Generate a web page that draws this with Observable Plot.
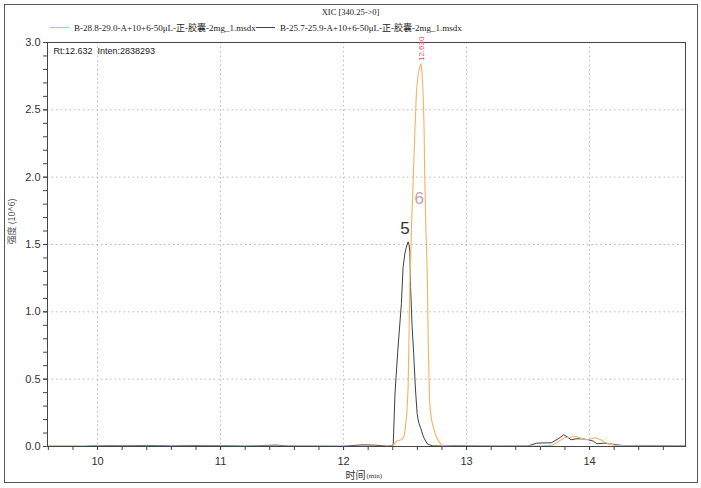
<!DOCTYPE html>
<html>
<head>
<meta charset="utf-8">
<script src="https://cdn.jsdelivr.net/npm/d3@7"></script>
<script src="https://cdn.jsdelivr.net/npm/@observablehq/plot@0.6"></script>
<style>
  html, body { margin: 0; padding: 0; background: #fff; }
  #wrap { position: relative; width: 701px; height: 488px; }
  #border { position: absolute; left: 4px; top: 4px; width: 692px; height: 477px; border: 1px solid #555; pointer-events: none; }
  #head { position: relative; height: 34px; }
  #title { position: absolute; left: 0; width: 701px; top: 7px; text-align: center; font: 8.5px "Liberation Serif", serif; color: #222; }
  .lg { position: absolute; top: 21px; font: 9px "Liberation Serif", "Noto Sans CJK SC", serif; color: #222; white-space: nowrap; }
  .sw { position: absolute; top: 27px; height: 1px; width: 19px; }
  svg { display: block; }
</style>
</head>
<body>
<div id="wrap">
  <div id="head">
    <div id="title"></div>
    <div class="sw" id="sw0"></div><div class="lg" id="lg0"></div>
    <div class="sw" id="sw1"></div><div class="lg" id="lg1"></div>
  </div>
  <div id="chart"></div>
  <div id="border"></div>
</div>
<script>
// ---- data ----
const titleText = "XIC [340.25->0]";
const seriesNames = ["B-28.8-29.0-A+10+6-50μL-正-胶囊-2mg_1.msdx", "B-25.7-25.9-A+10+6-50μL-正-胶囊-2mg_1.msdx"];
const seriesColors = ["#f8b064", "#404040"];

const orangeT = [9.59, 9.9, 10.0, 10.1, 10.3, 10.6, 10.9, 11.2, 11.5, 11.8, 12.1, 12.3, 12.40, 12.42, 12.44, 12.47, 12.49, 12.50, 12.515, 12.525, 12.539, 12.553, 12.567, 12.58, 12.593, 12.607, 12.62, 12.63, 12.637, 12.646, 12.655, 12.66, 12.67, 12.675, 12.68, 12.69, 12.70, 12.715, 12.73, 12.755, 12.78, 12.80, 12.85, 13.0, 13.2, 13.4, 13.6, 13.7, 13.75, 13.8, 13.85, 13.89, 13.94, 13.98, 14.05, 14.09, 14.14, 14.2, 14.3, 14.5, 14.78];
const orangeI = [0.002, 0.002, 0.006, 0.004, 0.003, 0.002, 0.003, 0.002, 0.004, 0.003, 0.002, 0.002, 0.003, 0.03, 0.045, 0.05, 0.07, 0.12, 0.25, 0.44, 1.18, 1.65, 2.0, 2.35, 2.64, 2.77, 2.82, 2.84, 2.78, 2.64, 2.35, 2.0, 1.6, 1.45, 1.31, 0.69, 0.32, 0.2, 0.14, 0.07, 0.03, 0.008, 0.003, 0.004, 0.003, 0.004, 0.003, 0.01, 0.04, 0.065, 0.07, 0.074, 0.057, 0.05, 0.065, 0.05, 0.025, 0.01, 0.004, 0.003, 0.006];

const blackT = [9.59, 9.9, 10.0, 10.2, 10.4, 10.6, 10.8, 11.0, 11.2, 11.45, 11.55, 11.8, 12.0, 12.15, 12.25, 12.35, 12.40, 12.404, 12.418, 12.44, 12.47, 12.484, 12.498, 12.51, 12.525, 12.532, 12.539, 12.545, 12.557, 12.57, 12.585, 12.598, 12.61, 12.626, 12.65, 12.68, 12.72, 12.8, 12.9, 13.0, 13.2, 13.5, 13.57, 13.69, 13.75, 13.79, 13.82, 13.85, 13.89, 13.94, 13.99, 14.03, 14.06, 14.12, 14.2, 14.3, 14.5, 14.78];
const blackI = [0.002, 0.002, 0.008, 0.006, 0.008, 0.004, 0.007, 0.006, 0.003, 0.01, 0.004, 0.003, 0.002, 0.012, 0.01, 0.003, 0.005, 0.02, 0.39, 0.7, 1.06, 1.33, 1.43, 1.48, 1.52, 1.5, 1.45, 1.18, 0.9, 0.69, 0.42, 0.245, 0.18, 0.14, 0.07, 0.02, 0.005, 0.003, 0.006, 0.005, 0.003, 0.004, 0.025, 0.028, 0.06, 0.087, 0.07, 0.05, 0.057, 0.057, 0.05, 0.04, 0.02, 0.025, 0.015, 0.004, 0.005, 0.006];

const xTicks = [10, 11, 12, 13, 14];
const yTicks = [0.0, 0.5, 1.0, 1.5, 2.0, 2.5, 3.0];
const peakLabels = [
  {t: 12.50, v: 1.62, label: "5", color: "#333333"},
  {t: 12.615, v: 1.84, label: "6", color: "#c4a2a8"}
];
const rtLabel = [{t: 12.63, v: 2.84, label: "12.630"}];
const infoText = "Rt:12.632  Inten:2838293";
const xLabelMain = "时间";
const xLabelUnit = "(min)";
const yLabel = "强度 (10^6)";

// ---- header ----
document.getElementById("title").textContent = titleText;
const swX = [50, 256], lgX = [74, 280];
seriesNames.forEach((n, i) => {
  const sw = document.getElementById("sw" + i);
  sw.style.left = swX[i] + "px"; sw.style.background = seriesColors[i];
  const lg = document.getElementById("lg" + i);
  lg.style.left = lgX[i] + "px"; lg.textContent = n;
});

const orange = orangeT.map((t, i) => ({t, v: orangeI[i]}));
const black = blackT.map((t, i) => ({t, v: blackI[i]}));
const xMinor = d3.range(9.6, 14.79, 0.2);
const yMinor = d3.range(0, 3.001, 0.1);

const chart = Plot.plot({
  width: 701, height: 454,
  marginLeft: 47, marginRight: 16, marginTop: 8, marginBottom: 42,
  style: {fontFamily: "'Liberation Sans', Arial, sans-serif", fontSize: "11px", color: "#333", background: "transparent"},
  x: {domain: [9.593, 14.78]},
  y: {domain: [0, 3.0]},
  marks: [
    Plot.gridX(xTicks, {stroke: "#b8b8b8", strokeOpacity: 1, strokeDasharray: "1.5,3"}),
    Plot.gridY(yTicks.filter(d => d > 0 && d < 3), {stroke: "#b8b8b8", strokeOpacity: 1, strokeDasharray: "1.5,3"}),
    Plot.axisX(xMinor, {tickSize: 4, text: null, stroke: "#444", label: null}),
    Plot.axisX(xTicks, {tickSize: 4, tickPadding: 7, tickFormat: d => String(d), stroke: "#444", fill: "#333", label: null}),
    Plot.axisY(yMinor, {tickSize: 4, text: null, stroke: "#444", label: null}),
    Plot.axisY(yTicks, {tickSize: 4, tickPadding: 3, tickFormat: d3.format(".1f"), stroke: "#444", fill: "#333", label: null}),
    Plot.line(black, {x: "t", y: "v", stroke: seriesColors[1], strokeWidth: 1}),
    Plot.line(orange, {x: "t", y: "v", stroke: seriesColors[0], strokeWidth: 1.1}),
    Plot.frame({stroke: "#444"}),
    Plot.text(peakLabels, {x: "t", y: "v", text: "label", fill: "color", fontSize: 17}),
    Plot.text(rtLabel, {x: "t", y: "v", text: "label", fill: "#e0505a", fontSize: 8, rotate: -90, textAnchor: "start", dy: -3}),
    Plot.text([infoText], {frameAnchor: "top-left", dx: 6, dy: 5, text: d => d, fontSize: 9, fill: "#222", textAnchor: "start", lineAnchor: "top"}),
    Plot.text([xLabelMain], {frameAnchor: "bottom", dy: 25, dx: -1, text: d => d, fontSize: 10, fill: "#333", textAnchor: "end", fontFamily: "'Noto Sans CJK SC', sans-serif", lineAnchor: "top"}),
    Plot.text([xLabelUnit], {frameAnchor: "bottom", dy: 27, dx: 0, text: d => d, fontSize: 7, fill: "#333", textAnchor: "start", fontFamily: "'Liberation Serif', serif", lineAnchor: "top"}),
    Plot.text([yLabel], {frameAnchor: "left", dx: -35, text: d => d, fontSize: 9, fill: "#555", rotate: -90, fontFamily: "'Noto Sans CJK SC', sans-serif"})
  ]
});
document.getElementById("chart").appendChild(chart);
</script>
</body>
</html>
